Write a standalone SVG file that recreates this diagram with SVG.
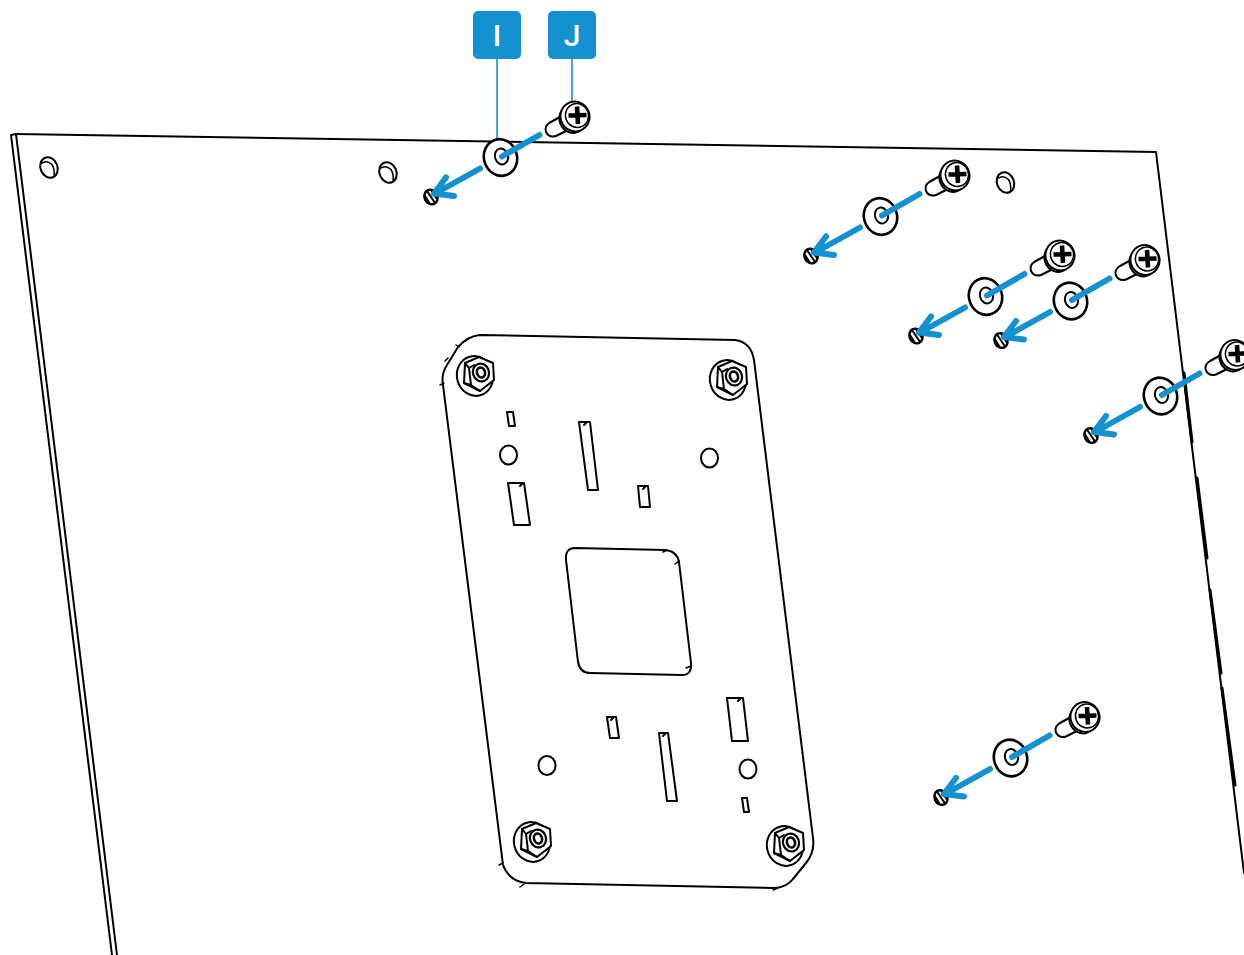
<svg xmlns="http://www.w3.org/2000/svg" xmlns:xlink="http://www.w3.org/1999/xlink" width="1244" height="955" viewBox="0 0 1244 955">
<style>
.l{fill:none;stroke:#000;stroke-width:2;stroke-linejoin:round;stroke-linecap:round}
.t{fill:none;stroke:#000;stroke-width:1.5;stroke-linejoin:round;stroke-linecap:round}
.k{fill:none;stroke:#000;stroke-width:3;stroke-linecap:round}
.w{fill:#fff;stroke:#000;stroke-width:2;stroke-linejoin:round}
.b{fill:none;stroke:#1591d0;stroke-width:6;stroke-linecap:round;stroke-linejoin:round}
.lead{fill:none;stroke:#1591d0;stroke-width:1.6}
.tag{fill:#1591d0}
.tx{fill:#fff;font-family:"Roboto","Liberation Sans",sans-serif;font-size:30px;font-weight:500;text-anchor:middle}
</style>
<defs>
<g id="hole"><ellipse cx="0" cy="0" rx="8.500" ry="10.500" transform="rotate(-22)" class="w"/><path d="M-8 -4 Q-2 -8 3 -3 Q6 2 5 9" class="t"/></g>
<g id="nut">
<ellipse cx="-1" cy="1" rx="18" ry="20" transform="rotate(-15 -1 1)" class="w"/>
<path d="M-11 -12 L3 -18 L17 -12 L18 5 L4 16 L-12 8 Z" class="w"/>
<path d="M-11 -12 L-7 -7 L-5 10 L4 16 M-12 8 L-5 10 M-7 -7 L-2 -10" class="l"/>
<ellipse cx="5" cy="-2.500" rx="8" ry="9" transform="rotate(-20 5 -2.500)" fill="#fff" stroke="#000" stroke-width="2.200"/>
<ellipse cx="5" cy="-2.500" rx="4" ry="5" transform="rotate(-20 5 -2.500)" fill="#fff" stroke="#000" stroke-width="2.600"/>
</g>
<g id="fix">
<path d="M560 117 L550 122.500 Q544 126 546 132 Q549 138 556 136 L572 128 Z" class="w"/>
<ellipse cx="572.500" cy="119" rx="13" ry="14" transform="rotate(-20 572.500 119)" class="w"/>
<ellipse cx="575" cy="116.500" rx="14.500" ry="15" transform="rotate(-20 575 116.500)" class="w"/>
<ellipse cx="577" cy="115.500" rx="11.500" ry="12" transform="rotate(-20 577 115.500)" fill="#fff" stroke="#000" stroke-width="1.500"/>
<path d="M577 106.500 L578 124 M568.500 115.500 L586.500 115" fill="none" stroke="#000" stroke-width="4.600"/>
<ellipse cx="500.500" cy="157.500" rx="16.500" ry="18.500" transform="rotate(-18 500.500 157.500)" fill="#fff" stroke="#000" stroke-width="2.600"/>
<ellipse cx="501.500" cy="156.500" rx="6.500" ry="8" transform="rotate(-18 501.500 156.500)" fill="#fff" stroke="#000" stroke-width="2"/>
<ellipse cx="431" cy="197" rx="6.500" ry="7.500" transform="rotate(-25 431 197)" fill="#fff" stroke="#000" stroke-width="2.400"/>
<path d="M427 191 L435 203 M431 190 L437 199 M425 196 L430 204" class="l"/>
<path d="M539.500 135 L502 156.500 M480 168.500 L436 193 M446 177.500 L434 193.500 L454 196" class="b"/>
</g>
</defs>
<g id="panel">
<path d="M16 134 L1156 152 L1244 873" class="l"/>
<path d="M11 135 L16 134 L117 955 M11 135 L112 955" class="l"/>
<path d="M1184 373 L1192 442 M1197 478 L1207 558 M1210 590 L1221 673 M1222 688 L1235 785" class="k"/>
<use xlink:href="#hole" href="#hole" x="49" y="167.500"/>
<use xlink:href="#hole" href="#hole" x="388" y="172.500"/>
<use xlink:href="#hole" href="#hole" x="1005.500" y="182.500"/>
</g>
<g id="plate">
<path d="M480 335 L735 340 Q751 342 754 360 L813 838 Q815 852 806 863 L793 879 Q787 887 775 888 L526 883 Q509 881 503 865 L443 385 Q441 374 447 365 L458 347 Q468 336 480 335 Z" class="l"/>
<path d="M445 361 L448 358 M456 345 L459 347 M440 385 L444 383 M499 865 L503 863 M520 887 L524 884 M773 890 L778 888" class="t"/>
<use xlink:href="#nut" href="#nut" x="476" y="375"/>
<use xlink:href="#nut" href="#nut" x="729" y="379"/>
<use xlink:href="#nut" href="#nut" x="533" y="841"/>
<use xlink:href="#nut" href="#nut" x="786" y="845"/>
<path d="M507 412 L513 412 L515 426 L509 426 Z" class="l"/>
<path d="M579 422 L590 422 L598 490 L588 490 Z M584 425 L586 423" class="l"/>
<path d="M508 483 L524 483 L530 525 L514 525 Z M520 486 L522 484" class="l"/>
<path d="M638 486 L648 486 L650 507 L640 507 Z M643 489 L645 487" class="l"/>
<path d="M607 717 L616 717 L619 738 L610 738 Z M611 720 L613 718" class="l"/>
<path d="M659 733 L668 733 L677 801 L667 801 Z M663 736 L665 734" class="l"/>
<path d="M727 698 L743 698 L748 741 L732 741 Z M738 701 L740 699" class="l"/>
<path d="M742 798 L747 798 L749 812 L744 812 Z" class="l"/>
<ellipse cx="508.500" cy="455" rx="8.500" ry="9.500" class="l"/>
<ellipse cx="709.500" cy="458" rx="8.500" ry="9.500" class="l"/>
<ellipse cx="547" cy="765.500" rx="8.500" ry="9.500" class="l"/>
<ellipse cx="748" cy="769" rx="8.500" ry="9.500" class="l"/>
<path d="M575 548 L665 550 Q677 551 679 562 L691 663 Q692 675 682 675 L590 673 Q580 673 578 662 L566 560 Q565 548 575 548 Z" class="l"/>
<path d="M663 552 L667 550 M675 564 L679 561 M686 668 L691 666" class="t"/>
</g>
<g id="leaders">
<path d="M497 59 L497 140 M572 59 L572 103" class="lead"/>
</g>
<g id="fix1"><use xlink:href="#fix" href="#fix"/></g>
<g id="fix2"><use xlink:href="#fix" href="#fix" x="380" y="59"/></g>
<g id="fix3"><use xlink:href="#fix" href="#fix" x="485" y="139"/></g>
<g id="fix4"><use xlink:href="#fix" href="#fix" x="570" y="143.500"/></g>
<g id="fix5"><use xlink:href="#fix" href="#fix" x="660" y="238.500"/></g>
<g id="fix6"><use xlink:href="#fix" href="#fix" x="510" y="600.500"/></g>
<g id="label-I"><rect class="tag" x="473" y="11" width="48" height="48" rx="5"/><text class="tx" x="497" y="46">I</text></g>
<g id="label-J"><rect class="tag" x="548" y="11" width="48" height="48" rx="5"/><text class="tx" x="572" y="46">J</text></g>
</svg>
